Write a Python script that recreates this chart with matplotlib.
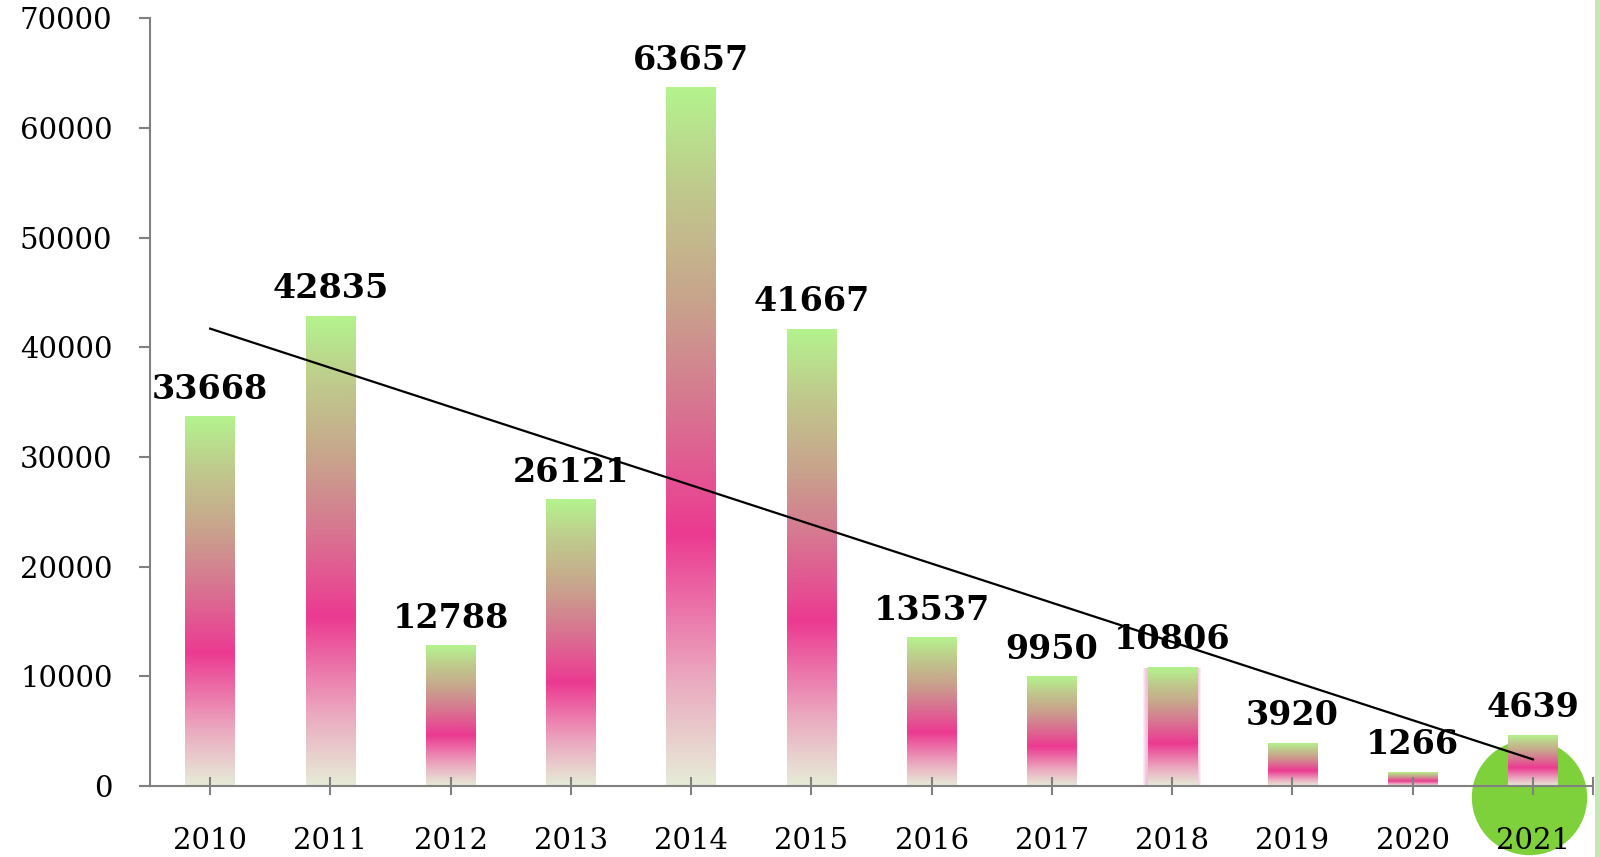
import numpy as np
import matplotlib
matplotlib.use("Agg")
import matplotlib.pyplot as plt
from matplotlib.colors import LinearSegmentedColormap
from matplotlib.patches import Rectangle

years = ["2010", "2011", "2012", "2013", "2014", "2015",
         "2016", "2017", "2018", "2019", "2020", "2021"]
counts = [33668, 42835, 12788, 26121, 63657, 41667,
          13537, 9950, 10806, 3920, 1266, 4639]
y_ticks = [0, 10000, 20000, 30000, 40000, 50000, 60000, 70000]

AXIS_GRAY = "#808080"
CIRCLE_GREEN = "#7ed13a"
EDGE_GREEN = "#c6e8b8"
FONT = "DejaVu Serif"

# bottom -> top colour ramp used inside each bar
bar_cmap = LinearSegmentedColormap.from_list("bar_grad", [
    (0.00, "#e6ecd7"),
    (0.15, "#ebaac0"),
    (0.36, "#ec3a91"),
    (0.55, "#d77891"),
    (0.70, "#c8a58c"),
    (0.85, "#c0c88c"),
    (1.00, "#b4f38e"),
])

fig = plt.figure(figsize=(16, 8.57), dpi=100)
ax = fig.add_axes([0.09375, 0.0828, 0.9019, 0.8957])

x = np.arange(len(years))
bar_w = 0.41
grad = np.linspace(0, 1, 256).reshape(-1, 1)

for i, v in zip(x, counts):
    if years[i] == "2018":
        # soft pink glow round this one bar
        for k in range(1, 5):
            dx = 0.009 * k
            dy = 90 * k
            ax.add_patch(Rectangle((i - bar_w / 2 - dx, -dy), bar_w + 2 * dx, v + dy,
                                   color="#e070b0", alpha=0.12, lw=0, zorder=1.1))
    ax.imshow(grad, cmap=bar_cmap, origin="lower", aspect="auto",
              extent=[i - bar_w / 2, i + bar_w / 2, 0, v], zorder=1.2,
              interpolation="bilinear")
    ax.annotate(f"{v}", (i, v), xytext=(0, 13), textcoords="offset points",
                ha="center", va="baseline", fontsize=24, fontweight="bold",
                family=FONT, color="black", zorder=4)

# linear trend line
slope, intercept = np.polyfit(x, counts, 1)
ax.plot([x[0], x[-1]], [intercept, intercept + slope * x[-1]],
        color="black", lw=1.6, zorder=3)

# green marker behind the last year
ax.scatter([x[-1] - 0.03], [-1000], s=6900, color=CIRCLE_GREEN, zorder=1.0,
           clip_on=False, linewidths=0)

ax.set_xlim(-0.5, len(years) - 0.5)
ax.set_ylim(0, 70000)
ax.set_axisbelow(False)

ax.set_xticks(x)
ax.set_xticklabels(years, fontsize=21, family=FONT)
ax.set_xticks([len(years) - 0.5], minor=True)
ax.set_yticks(y_ticks)
ax.set_yticklabels([str(t) for t in y_ticks], fontsize=21, family=FONT)

ax.tick_params(axis="x", which="both", direction="inout", length=13, width=1.5,
               color=AXIS_GRAY, pad=23)
ax.tick_params(axis="y", direction="out", length=8, width=1.5,
               color=AXIS_GRAY, pad=19)

for side in ["top", "right"]:
    ax.spines[side].set_visible(False)
for side in ["left", "bottom"]:
    ax.spines[side].set_color(AXIS_GRAY)
    ax.spines[side].set_linewidth(1.5)

# thin green strip at the right edge of the picture
fig.add_artist(Rectangle((0.9969, 0), 0.0031, 1, transform=fig.transFigure,
                         color=EDGE_GREEN, lw=0))

fig.savefig("out.png", dpi=100)
plt.close(fig)
